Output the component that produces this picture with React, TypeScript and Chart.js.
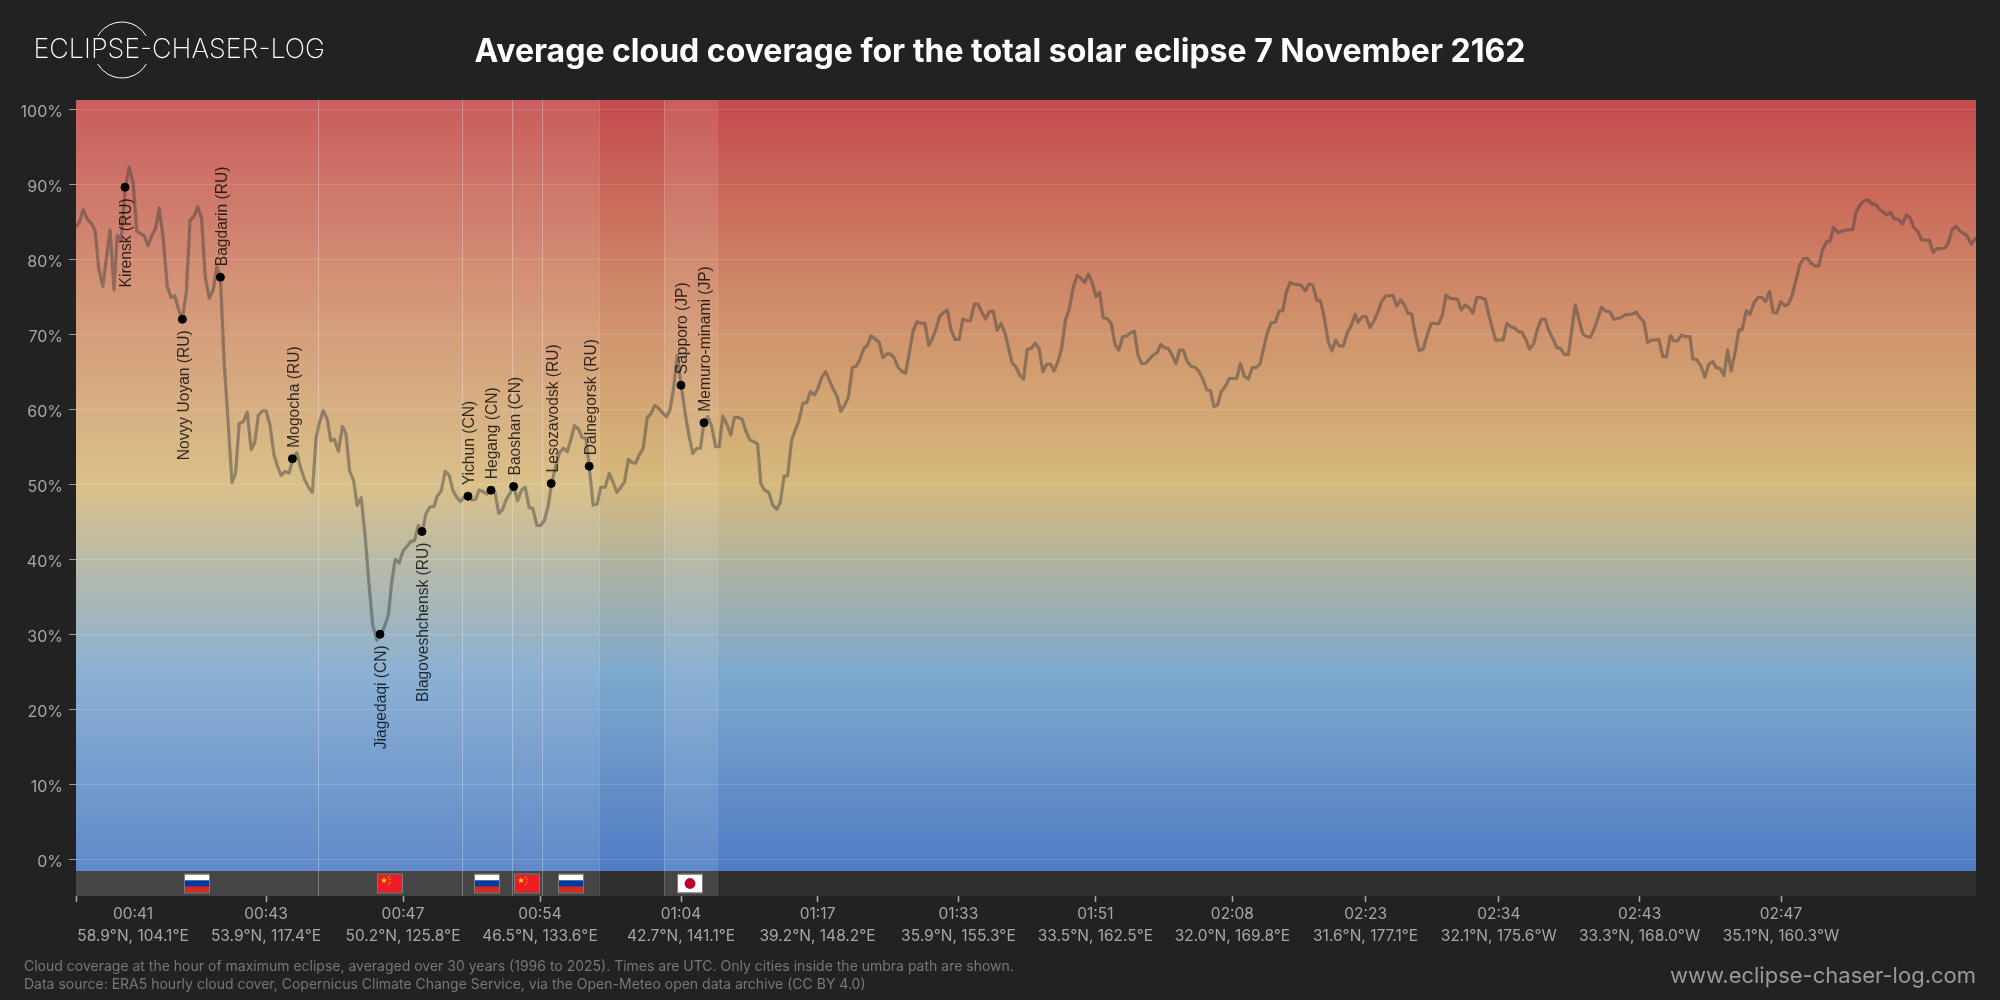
import React, { useEffect, useRef } from "react";
import { Chart, registerables } from "chart.js";
Chart.register(...registerables);

const titleText = "Average cloud coverage for the total solar eclipse 7 November 2162";
const brandText = "ECLIPSE-CHASER-LOG";
const footLines = [
  "Cloud coverage at the hour of maximum eclipse, averaged over 30 years (1996 to 2025). Times are UTC. Only cities inside the umbra path are shown.",
  "Data source: ERA5 hourly cloud cover, Copernicus Climate Change Service, via the Open-Meteo open data archive (CC BY 4.0)",
];
const siteText = "www.eclipse-chaser-log.com";

// Position along the track (sample number) and mean cloud cover (%).
const trackA = [0,0.8,1.8,2.9,3.8,4.8,5.7,6.7,8.5,9.5,10.3,11.3,12.3,13.3,14.3,15.2,17.1,18,19,19.9,20.8,21.8,22.8,23.8,24.7,25.7,26.6,27.6,28.5,29.5,30.4,31.4,32.3,33.3,34.3,35.2,36.1];
const coverA = [84.4,85,86.7,85.4,84.9,83.9,78.8,76.5,84,76,83.3,82.7,89.6,92.35,90.2,83.8,83.2,81.9,83.3,84.2,86.9,82.9,76.5,75,75.2,73.3,72.1,75.8,85.3,85.8,87.1,85.6,77.8,74.9,76,79.1,77.8];
const trackB = [37,38.1,39,39.9,40.8,41.8,42.8,43.8,44.7,45.6,46.6,47.5,48.5,49.5,50.4,51.3,52.3,53.3,54.2,55.2,56.2,57.1,58.1,59.1,60,60.8,61.8,62.8,63.7,64.6,65.6,66.6,67.5,68.4,69.4,70.3,71.3,72.3,73.3,74.2,75.2,76.2,77.1,78.1,78.9,79.8,80.8,81.8,82.8,83.7,84.6,85.6,86.5,87.5,88.5];
const coverB = [66.7,57.8,50.3,51.6,58.2,58.45,59.7,54.7,55.7,59.3,59.9,59.9,58,54,52.45,51.25,51.8,51.6,53.5,54.3,52.2,50.8,49.7,49,56.2,58.2,59.9,58.8,55.9,56.1,54.45,57.8,56.8,51.9,50.6,47.25,48.3,43.1,36.45,31.3,29.3,30,31.1,32.67,36.9,40.1,39.6,41.25,41.87,42.45,42.6,44.6,43.6,46.2,47.1];
const trackC = [89.5,90.3,91.3,92.3,93.3,94.2,95.2,96.1,97.1,98,99,99.9,100.8,101.8,102.8,103.8,104.7,105.7,106.6,107.5,108.5,109.5,110.4,111.4,112.3,113.3,114.2,115.2,116.1,117.1,118,118.9,119.9,120.8,121.8,122.8,123.7,124.6,125.6,126.5,127.5,128.3,129.3,130.3,131.2,132.3,133.3,134.3,135.2,136.2,137.1,138.1,139,139.9,140.8,141.8];
const coverC = [47.1,48.5,49.2,51.8,51.3,49.3,48.35,47.8,48.45,48.5,48,48.1,49.33,49.1,48.8,49.33,49.1,46.2,46.67,48,48.9,49.8,47.9,49.33,49.7,47,46.85,44.6,44.6,45.25,47.1,50.2,52.45,54.2,54.9,54.45,56,57.9,57.47,56.35,56.2,52.45,47.3,47.47,49.7,49.7,51.55,50.3,49,49.7,50.35,53.4,53,52.9,54,54.9];
const trackD = [142.8,143.7,144.7,145.7,146.6,147.6,148.5,149.4,150.3,151.3,152.3,153.3,154.2,155.2,156.1,157,157.9,158.9,159.9,160.8,161.7,162.7,163.7,164.6,165.6,166.5,167.4,168.5,169.3,170.4,171.2,172.1,173.2,174.2,175.2,176.1,177,177.9,178.9,179.8,180.8,181.7,182.7,183.6,184.6,185.5,186.5,187.4,188.3,189.3,190.3];
const coverD = [59,59.47,60.6,60.2,59.65,59.1,60,62.9,67.25,63.3,59.55,56.45,54.2,54.9,54.9,58.3,59.1,57.87,55.1,55.1,59.2,58.1,56.67,59,59,58.8,57.3,56,55.8,55.47,50.2,49.33,49,47.3,46.75,47.7,51.2,51.2,56,57.3,58.67,60.9,61,62.45,62,62.9,64.45,65.1,64,62.8,61.8];
const trackE = [191.2,192.2,193.1,194.1,195,196,196.9,197.8,198.8,199.8,200.8,201.7,202.7,203.6,204.5,205.5,206.4,207.4,208.3,209.3,210.3,211.3,212.2,213.2,214.1,215,215.9,216.9,217.8,218.8,219.8,220.8,221.7,222.7,223.6,224.6,225.5,226.4,227.4,228.3,229.3,230.3,231.2,232.2,233.1,234,235,236,236.9,237.8,238.8,239.8,240.8,241.7,242.7,243.6,244.5,245.5,246.4,247.4,248.3,249.3,250.3,251.2,252.2,253.1,254.1,255,255.9];
const coverE = [59.8,60.67,61.7,65.7,65.8,66.75,68.13,68.6,69.87,69.5,69,67,67.47,67.47,67,65.7,65.2,64.9,67.55,70.6,71.78,71.55,71.55,68.6,69.55,70.8,72.45,73,73.33,70.6,69.4,69.4,72.13,71.9,71.9,74.13,74.13,73.1,72.13,73.1,73.2,70.6,71.55,70.35,68.3,66.3,65.7,64.6,64.1,68.1,68.2,68.9,68.13,65.1,66.1,66.13,65.2,66.45,68.2,72.1,73.4,76.35,77.95,77.55,77,78.1,76.9,75.1,75.7];
const trackF = [256.8,257.8,258.8,259.8,260.7,261.7,262.7,263.7,264.6,265.5,266.4,267.4,268.3,269.3,270.3,271.2,272.2,273.1,274,275,275.9,276.8,277.8,278.8,279.8,280.8,281.7,282.7,283.6,284.5,285.4,286.3,287.3,288.3,290.2,291.1,292.1,293.1,294.1,295,296,296.9,297.8,298.8,299.8,300.8,301.7,302.5,303.5,304.3,305.3,306.3,307.3,308.3,309.2,310.2,311.1,312,313.1,314,314.9,315.8,316.8,317.8,318.8,319.8,320.5,321.6,322.5,323.5,324.5,325.5,326.4,327.4,329.2,330.2,331.2,332.1,333,333.9,334.9,335.8,336.8,337.8,338.8,339.7,340.7,341.6,342.5,343.5,345.4,346.3,347.3,348.3,349.2,350.2,351.1,352.3,353.1,354,354.9,355.8,356.8,357.7,358.7,359.7,360.6,361.5,362.5,363.4,364.4,365.3,366.3,367.3,368.2,369.2,370.2,371.1,372.1,373.1];
const coverF = [72.3,72.2,71.55,68.67,68,69.8,69.87,70.3,70.5,67.33,66.2,66.2,66.75,67.33,67.65,68.75,68.27,68.2,67.33,66.2,68,68,66.45,65.8,65.7,65.1,64.13,62.67,62.6,60.45,60.67,62.45,63.1,64.2,64.2,66.2,64.5,64.13,65.65,65.65,66.1,68.2,70.2,71.65,71.7,73.2,73.25,75.55,77,76.8,76.75,76.6,75.9,76.8,76.67,74.6,74.6,72.45,69,67.87,69.33,68.53,68.53,70.3,71.25,72.75,71.7,72.45,72.45,71,71.9,73.1,74.45,75.2,75.3,73.87,74.67,74,72.9,72.8,69.9,67.9,68.13,70,71.55,71.55,71.5,72.67,75.33,74.9,74.75,73.33,74,73.65,72.9,75,75,74.75,72.9,71.1,69.25,69.33,69.33,71.55,71.1,70.93,70.45,70.35,69.33,68.1,68.8,70.67,72.1,72.1,70.6,69.55,68.35,68.2,67.4,67.4];
const trackG = [374.8,376.7,377.6,378.6,379.6,381.4,382.4,383.5,384.4,386.2,387.3,389.2,390,390.8,392,392.9,393.8,395.7,396.7,397.6,398.6,399.4,400.4,401.4,402.4,403.5,404.2,405.1,406.3,407.2,408.2,409.2,410,411,412,412.9,413.8,414.9,415.7,416.5,417.6,418.5,419.5,420.5,421.5,422.4,423.4,424.3,425.2,426.2,427.2,428.1,429,429.9,430.9,431.9,432.9,433.8,434.8,435.7,436.6,437.7,438.5,439.4,440.5,442.3,443.3,444.2,445,446,447,447.9,449,449.9,450.8,452.7,453.6,454.6,455.7,456.6,457.6,458.5,459.5,460.5,461.4,463.3,464.3,465.2,467.1,468,469,470,470.9,472.7,473.8,475];
const coverG = [74,70.13,69.8,69.7,70.9,73.7,73.2,73.1,72.1,72.3,72.67,72.8,73.07,72.45,71.7,69,69.3,69.4,67.1,67.1,69.9,69.25,69.2,70,69.77,69.77,66.8,66.76,65.8,64.36,66.13,66.45,65.65,65.56,64.58,68,65.2,68,70.67,70.67,73.25,72.76,74.3,75,75,74.45,75.8,73,72.93,74.45,73.9,74.13,75.25,77.1,79.3,80.2,80.2,79.56,79.2,79.2,81.25,82.5,82.5,84.36,83.65,83.96,84.05,84.05,86.36,87.33,87.9,88,87.47,87.38,86.8,86,86.36,85.47,85.38,84.8,86,85.65,84.3,83.78,82.67,82.62,81,81.47,81.56,82.1,84,84.5,83.9,83.25,82.13,83];

const trackPos = [...trackA, ...trackB, ...trackC, ...trackD, ...trackE, ...trackF, ...trackG];
const coverage = [...coverA, ...coverB, ...coverC, ...coverD, ...coverE, ...coverF, ...coverG];

const cityNames = ["Kirensk (RU)","Novyy Uoyan (RU)","Bagdarin (RU)","Mogocha (RU)","Jiagedaqi (CN)","Blagoveshchensk (RU)","Yichun (CN)","Hegang (CN)","Baoshan (CN)","Lesozavodsk (RU)","Dalnegorsk (RU)","Sapporo (JP)","Memuro-minami (JP)"];
const cityTrack = [12.25,26.6,36.1,54.1,76,86.5,98,103.75,109.4,118.8,128.3,151.25,157];
const cityCover = [89.7,72.1,77.7,53.5,30.1,43.8,48.5,49.3,49.8,50.2,52.5,63.3,58.3];
const cityBelow = [true,true,false,false,true,true,false,false,false,false,false,false,false];

const regionFrom = [0,60.6,96.6,109.1,116.6,147];
const regionTo = [60.6,96.6,109.1,116.6,130.7,160.2];
const regionFlag = ["RU","CN","RU","CN","RU","JP"];

const xTickPos = [0,47.5,81.75,116,151.25,185.4,220.6,254.85,289.1,322.4,355.7,390.9,426.25];
const xTickTime = ["00:41","00:43","00:47","00:54","01:04","01:17","01:33","01:51","02:08","02:23","02:34","02:43","02:47"];
const xTickPlace = ["58.9°N, 104.1°E","53.9°N, 117.4°E","50.2°N, 125.8°E","46.5°N, 133.6°E","42.7°N, 141.1°E","39.2°N, 148.2°E","35.9°N, 155.3°E","33.5°N, 162.5°E","32.0°N, 169.8°E","31.6°N, 177.1°E","32.1°N, 175.6°W","33.3°N, 168.0°W","35.1°N, 160.3°W"];
const yTicks = [0,10,20,30,40,50,60,70,80,90,100];

const gradValues = [101.33,75,50,25,-1.47];
const gradColors = ["#c44a4c","#cf8b69","#d6ba7d","#7ea9ce","#4f7cc4"];

const FONT = "Inter, 'Noto Sans', sans-serif";

function star(ctx: CanvasRenderingContext2D, cx: number, cy: number, r: number) {
  ctx.beginPath();
  for (let i = 0; i < 10; i++) {
    const a = -Math.PI / 2 + (i * Math.PI) / 5;
    const rr = i % 2 ? r * 0.42 : r;
    ctx.lineTo(cx + rr * Math.cos(a), cy + rr * Math.sin(a));
  }
  ctx.closePath();
  ctx.fill();
}

function drawFlag(ctx: CanvasRenderingContext2D, code: string, cx: number, top: number) {
  const w = 24, h = 18, x = Math.round(cx - w / 2);
  if (code === "RU") {
    ["#ffffff", "#0039a6", "#d52b1e"].forEach((c, i) => {
      ctx.fillStyle = c;
      ctx.fillRect(x, top + (i * h) / 3, w, h / 3);
    });
  } else if (code === "CN") {
    ctx.fillStyle = "#ee1c25";
    ctx.fillRect(x, top, w, h);
    ctx.fillStyle = "#ffde00";
    star(ctx, x + 6, top + 6, 3.2);
    [[10.5, 2.8], [12, 5], [12, 8], [10.5, 10]].forEach(([dx, dy]) => star(ctx, x + dx, top + dy, 1));
  } else {
    ctx.fillStyle = "#ffffff";
    ctx.fillRect(x, top, w, h);
    ctx.fillStyle = "#bc002d";
    ctx.beginPath();
    ctx.arc(x + w / 2, top + h / 2, 5.4, 0, Math.PI * 2);
    ctx.fill();
  }
  ctx.strokeStyle = "rgba(130,130,130,0.9)";
  ctx.lineWidth = 1;
  ctx.strokeRect(x - 0.5, top - 0.5, w + 1, h + 1);
}

const backdrop = {
  id: "backdrop",
  beforeDraw(chart: any) {
    const { ctx, chartArea: a, scales } = chart;
    const { x, y } = scales;
    ctx.save();
    ctx.fillStyle = "#222222";
    ctx.fillRect(0, 0, chart.width, chart.height);
    const floorY = y.getPixelForValue(gradValues[gradValues.length - 1]);
    const topY = y.getPixelForValue(gradValues[0]);
    const g = ctx.createLinearGradient(0, topY, 0, floorY);
    gradValues.forEach((v, i) => g.addColorStop((y.getPixelForValue(v) - topY) / (floorY - topY), gradColors[i]));
    ctx.fillStyle = g;
    ctx.fillRect(a.left, topY, a.width, floorY - topY);
    ctx.fillStyle = "#303030";
    ctx.fillRect(a.left, floorY, a.width, a.bottom - floorY);
    regionFrom.forEach((f, i) => {
      const l = x.getPixelForValue(f), r = x.getPixelForValue(regionTo[i]);
      ctx.fillStyle = "rgba(255,255,255,0.1)";
      ctx.fillRect(l, topY, r - l, a.bottom - topY);
      ctx.fillStyle = "rgba(255,255,255,0.17)";
      if (i > 0) ctx.fillRect(Math.round(l), topY, 1, a.bottom - topY);
      ctx.fillRect(Math.round(r), topY, 1, a.bottom - topY);
      drawFlag(ctx, regionFlag[i], (l + r) / 2, floorY + 3.5);
    });
    ctx.restore();
    // first axis label sits to the right of its tick
    const items = x.getLabelItems(a);
    if (items[0] && !items[0].__moved) {
      items[0].options.translation[0] += 57;
      items[0].__moved = true;
    }
  },
  afterDatasetsDraw(chart: any) {
    const { ctx, scales } = chart;
    const { x, y } = scales;
    ctx.save();
    ctx.font = "15.6px 'Liberation Sans'";
    ctx.fillStyle = "rgba(0,0,0,0.78)";
    ctx.textBaseline = "middle";
    cityNames.forEach((name, i) => {
      const px = x.getPixelForValue(cityTrack[i]);
      const py = y.getPixelForValue(cityCover[i]);
      ctx.save();
      ctx.translate(px + 2, cityBelow[i] ? py + 11 : py - 11);
      ctx.rotate(-Math.PI / 2);
      ctx.textAlign = cityBelow[i] ? "right" : "left";
      ctx.fillText(name, 0, 0);
      ctx.restore();
    });
    ctx.restore();
  },
  afterDraw(chart: any) {
    const { ctx } = chart;
    ctx.save();
    ctx.fillStyle = "#ffffff";
    ctx.textBaseline = "middle";
    ctx.textAlign = "left";
    ctx.font = `200 26.9px ${FONT}`;
    ctx.fillText(brandText, 33.5, 50);
    ctx.strokeStyle = "#ffffff";
    ctx.lineWidth = 1;
    ctx.beginPath();
    ctx.arc(122, 50, 28, Math.PI * 1.167, Math.PI * 1.833);
    ctx.stroke();
    ctx.beginPath();
    ctx.arc(122, 50, 28, Math.PI * 0.167, Math.PI * 0.833);
    ctx.stroke();
    ctx.fillStyle = "#777777";
    ctx.font = `14px ${FONT}`;
    ctx.fillText(footLines[0], 24, 967);
    ctx.fillText(footLines[1], 24, 985);
    ctx.fillStyle = "#999999";
    ctx.textAlign = "right";
    ctx.font = `22px ${FONT}`;
    ctx.fillText(siteText, 1976, 976);
    ctx.restore();
  },
};

export default function App() {
  const ref = useRef<HTMLCanvasElement | null>(null);
  useEffect(() => {
    document.body.style.margin = "0";
    document.body.style.background = "#222222";
    const chart = new Chart(ref.current as HTMLCanvasElement, {
      type: "line",
      data: {
        datasets: [
          {
            label: "Cities",
            type: "scatter",
            data: cityTrack.map((t, i) => ({ x: t, y: cityCover[i] })),
            backgroundColor: "#000000",
            borderColor: "#000000",
            pointRadius: 4,
            order: 0,
          },
          {
            label: "Cloud coverage",
            data: trackPos.map((t, i) => ({ x: t, y: coverage[i] })),
            borderColor: "rgba(60,60,60,0.46)",
            borderWidth: 3.2,
            pointRadius: 0,
            tension: 0,
            borderJoinStyle: "round",
            order: 1,
          },
        ],
      } as any,
      options: {
        responsive: false,
        animation: false,
        devicePixelRatio: 1,
        layout: { padding: 0 },
        plugins: {
          legend: { display: false },
          tooltip: { enabled: false },
          title: {
            display: true,
            text: titleText,
            color: "#ffffff",
            font: { family: FONT, size: 32, weight: "bold", lineHeight: 1.2 },
            padding: { top: 33, bottom: 28.6 },
          },
        },
        scales: {
          x: {
            type: "linear",
            min: 0,
            max: 475,
            border: { display: false },
            grid: { drawOnChartArea: false, drawTicks: true, tickLength: 6, tickColor: "#aaaaaa", tickWidth: 1.5 },
            afterBuildTicks: (axis: any) => {
              axis.ticks = xTickPos.map((v) => ({ value: v }));
            },
            afterFit: (axis: any) => {
              axis.height = 104;
            },
            ticks: {
              autoSkip: false,
              maxRotation: 0,
              minRotation: 0,
              color: "#a6a6a6",
              padding: 1.5,
              font: { family: FONT, size: 15.5, lineHeight: 1.4 },
              callback: (_v: any, i: number) => [xTickTime[i], xTickPlace[i]],
            },
          },
          y: {
            min: -4.8,
            max: 101.33,
            border: { display: false },
            grid: { color: "rgba(255,255,255,0.14)", tickColor: "#999999", tickLength: 7, lineWidth: 1 },
            afterBuildTicks: (axis: any) => {
              axis.ticks = yTicks.map((v) => ({ value: v }));
            },
            afterFit: (axis: any) => {
              axis.width = 76;
            },
            ticks: {
              color: "#a6a6a6",
              padding: 6,
              labelOffset: 2,
              font: { family: FONT, size: 16 },
              callback: (v: any) => `${v}%`,
            },
          },
          margin: {
            position: "right",
            min: 0,
            max: 1,
            border: { display: false },
            grid: { display: false, drawTicks: false },
            ticks: { display: false },
            afterFit: (axis: any) => {
              axis.width = 24;
            },
          },
        },
      },
      plugins: [backdrop],
    } as any);
    return () => chart.destroy();
  }, []);
  return (
    <div style={{ position: "absolute", left: 0, top: 0, width: 2000, height: 1000 }}>
      <canvas ref={ref} width={2000} height={1000} style={{ display: "block", width: 2000, height: 1000 }} />
    </div>
  );
}
